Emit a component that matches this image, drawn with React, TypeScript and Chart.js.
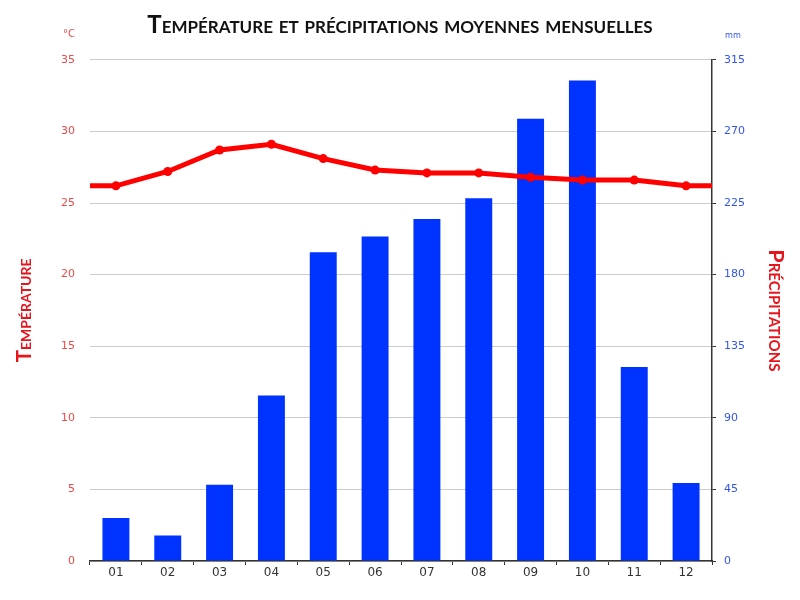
import React, { useEffect, useRef } from "react";
import { Chart, registerables } from "chart.js";

Chart.register(...registerables);

const months = ["01", "02", "03", "04", "05", "06", "07", "08", "09", "10", "11", "12"];
const temperature = [26.2, 27.2, 28.7, 29.1, 28.1, 27.3, 27.1, 27.1, 26.8, 26.6, 26.6, 26.2];
const precipitation = [27, 16, 48, 104, 194, 204, 215, 228, 278, 302, 122, 49];

const titleText = "Température et précipitations moyennes mensuelles";
const tempTitle = "Température";
const precTitle = "Précipitations";
const tempUnit = "°C";
const precUnit = "mm";

const RED = "#ff0000";
const BLUE = "#0033ff";

const unitsPlugin = {
  id: "units",
  afterDraw(chart: any) {
    const ctx = chart.ctx;
    const yT = chart.scales.yT;
    const yP = chart.scales.yP;
    ctx.save();
    ctx.textBaseline = "middle";
    ctx.font = "10px 'DejaVu Sans'";
    ctx.fillStyle = "#e84a4a";
    ctx.textAlign = "right";
    ctx.fillText(tempUnit, yT.right - 15, chart.chartArea.top - 25);
    ctx.font = "9px 'DejaVu Sans Condensed', 'DejaVu Sans'";
    ctx.fillStyle = "#3355ee";
    ctx.textAlign = "left";
    ctx.fillText(precUnit, yP.left + 13, chart.chartArea.top - 24);
    ctx.restore();
  },
};

export default function App() {
  const ref = useRef<HTMLCanvasElement | null>(null);

  useEffect(() => {
    if (!ref.current) return;
    const n = temperature.length;
    const lineData = [
      { x: 0, y: temperature[0] },
      ...temperature.map((v, i) => ({ x: i + 0.5, y: v })),
      { x: n, y: temperature[n - 1] },
    ];
    const radii = lineData.map((_, i) => (i === 0 || i === lineData.length - 1 ? 0 : 4.5));

    const chart = new Chart(ref.current, {
      type: "bar",
      data: {
        labels: months,
        datasets: [
          {
            type: "line",
            label: "Température",
            data: lineData as any,
            xAxisID: "xl",
            yAxisID: "yT",
            borderColor: RED,
            backgroundColor: RED,
            borderWidth: 5,
            pointRadius: radii,
            pointBackgroundColor: RED,
            pointBorderWidth: 0,
            order: 0,
          } as any,
          {
            type: "bar",
            label: "Précipitations",
            data: precipitation,
            xAxisID: "x",
            yAxisID: "yP",
            backgroundColor: BLUE,
            barPercentage: 0.52,
            categoryPercentage: 1,
            grouped: false,
            order: 1,
          } as any,
        ],
      },
      options: {
        responsive: false,
        animation: false,
        layout: { padding: { left: 0, right: 0, top: 0, bottom: 0 } },
        plugins: {
          legend: { display: false },
          tooltip: { enabled: false },
          title: {
            display: true,
            text: titleText,
            color: "#111111",
            font: { family: "Lato", size: 24, weight: "small-caps bold" as any },
            padding: { top: 11, bottom: 20 },
          },
        },
        scales: {
          x: {
            type: "category",
            offset: true,
            afterFit(s: any) {
              s.height = 39;
            },
            grid: {
              display: true,
              drawOnChartArea: false,
              drawTicks: true,
              tickLength: 4,
              color: "#333333",
              offset: true,
            },
            border: { display: true, color: "#333333", width: 1.5 },
            ticks: {
              color: "#333333",
              font: { family: "DejaVu Sans", size: 12 },
              padding: 1,
            },
          },
          xl: {
            type: "linear",
            min: 0,
            max: 12,
            offset: false,
            display: false,
            grid: { offset: false },
          },
          yT: {
            type: "linear",
            position: "left",
            min: 0,
            max: 35,
            afterFit(s: any) {
              s.width = 90;
            },
            ticks: {
              stepSize: 5,
              color: "#e84a4a",
              font: { family: "DejaVu Sans", size: 11 },
              padding: 15,
            },
            grid: { color: "#cccccc", drawTicks: false, lineWidth: 1 },
            border: { display: false },
            title: {
              display: true,
              text: tempTitle,
              color: "#e8141c",
              font: { family: "Lato", size: 20.5, weight: "small-caps bold" as any },
              padding: { top: 12, bottom: 0 },
            },
          },
          yP: {
            type: "linear",
            position: "right",
            min: 0,
            max: 315,
            afterFit(s: any) {
              s.width = 88;
            },
            ticks: {
              stepSize: 45,
              color: "#3355ee",
              font: { family: "DejaVu Sans", size: 11 },
              padding: 8,
            },
            grid: {
              drawOnChartArea: false,
              drawTicks: true,
              tickLength: 4,
              color: "#333333",
            },
            border: { display: true, color: "#333333", width: 1.5 },
            title: {
              display: true,
              text: precTitle,
              color: "#e8141c",
              font: { family: "Lato", size: 21.5, weight: "small-caps bold" as any },
              padding: { top: 11, bottom: 0 },
            },
          },
        },
      },
      plugins: [unitsPlugin],
    });

    return () => chart.destroy();
  }, []);

  return (
    <div style={{ position: "absolute", left: 0, top: 0, width: 800, height: 600, background: "#ffffff" }}>
      <canvas ref={ref} width={800} height={600} style={{ display: "block" }} />
    </div>
  );
}
